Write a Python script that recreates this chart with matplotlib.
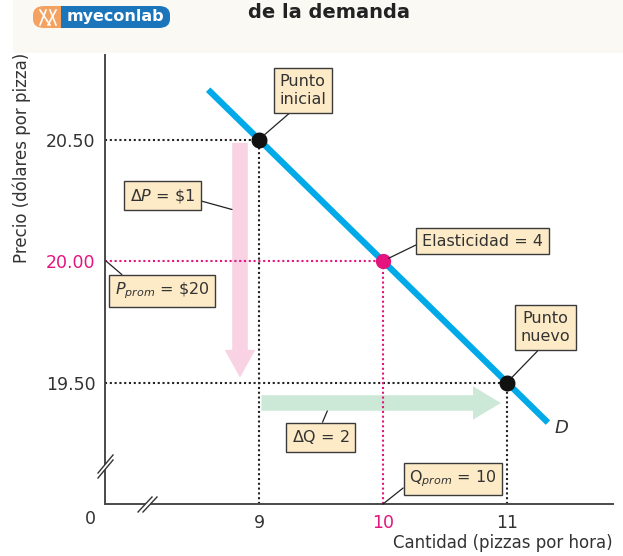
import matplotlib
matplotlib.use("Agg")
import matplotlib.pyplot as plt
from matplotlib.patches import FancyBboxPatch, Polygon, Rectangle
from matplotlib.lines import Line2D

plt.rcParams['font.family'] = ['DejaVu Sans']
plt.rcParams['mathtext.fontset'] = 'dejavusans'

# ---------------- data ----------------
quantity_ticks = [9, 10, 11]
quantity_labels = ["9", "10", "11"]
price_ticks = [19.50, 20.00, 20.50]
price_labels = ["19.50", "20.00", "20.50"]
Q_initial, P_initial = 9, 20.50
Q_new, P_new = 11, 19.50
Q_avg, P_avg = 10, 20.00
demand_q = [8.59, 11.33]
demand_p = [20.705, 19.335]

# ---------------- layout helpers ----------------
W, H = 623, 556
def fx(px):
    return px / W
def fy(py):
    return 1 - py / H
# pixel -> data (layout only)
def dx(px):
    return Q_initial + (px - 259) / 124.0
def dy(py):
    return P_initial - (py - 139.5) / 243.0

TXT = '#333333'
MAG = '#E5137E'
BOXFC = '#FDEBC7'
BOXEC = '#3a3a3a'

fig = plt.figure(figsize=(W / 100, H / 100), dpi=100)
fig.patch.set_facecolor('white')

# header band
fig.patches.append(Rectangle((fx(13), fy(53)), 1 - fx(13), fy(0) - fy(53),
                             transform=fig.transFigure, fc='#FAF9F4', ec='none', zorder=0))

ax = fig.add_axes([fx(105), fy(504), fx(613) - fx(105), fy(55) - fy(504)])
ax.set_facecolor('none')
ax.set_xlim(dx(105), dx(613))
ax.set_ylim(dy(504), dy(55))
for s in ['top', 'right']:
    ax.spines[s].set_visible(False)
for s in ['left', 'bottom']:
    ax.spines[s].set_color('#4a4a4a')
    ax.spines[s].set_linewidth(1.4)

ax.set_xticks(quantity_ticks, quantity_labels)
ax.set_yticks(price_ticks, price_labels)
ax.tick_params(axis='both', length=0, labelsize=12.5, colors=TXT)
ax.tick_params(axis='x', pad=7)
ax.tick_params(axis='y', pad=7)
for lab in ax.get_xticklabels():
    if lab.get_text() == "10":
        lab.set_color(MAG)
for lab in ax.get_yticklabels():
    if lab.get_text() == "20.00":
        lab.set_color(MAG)

x0 = ax.get_xlim()[0]
y0 = ax.get_ylim()[0]
dots = (0, (1.0, 1.3))
GL = dict(lw=1.5, ls=dots, dash_capstyle='butt', zorder=2)
# guide lines
ax.plot([x0, Q_initial], [P_initial, P_initial], color='#222222', **GL)
ax.plot([Q_initial, Q_initial], [y0, P_initial], color='#222222', **GL)
ax.plot([x0, Q_new], [P_new, P_new], color='#222222', **GL)
ax.plot([Q_new, Q_new], [y0, P_new], color='#222222', **GL)
ax.plot([x0, Q_avg], [P_avg, P_avg], color=MAG, **GL)
ax.plot([Q_avg, Q_avg], [y0, P_avg], color=MAG, **GL)

# arrows
ax.annotate('', xy=(dx(240), P_new + 0.02), xytext=(dx(240), P_initial - 0.014),
            arrowprops=dict(arrowstyle='simple,head_length=2.0,head_width=2.2,tail_width=1.12',
                            mutation_scale=10, fc='#F9D3E4', ec='none', shrinkA=0, shrinkB=0),
            zorder=1)
ax.annotate('', xy=(Q_new - 0.05, dy(403)), xytext=(Q_initial + 0.02, dy(403)),
            arrowprops=dict(arrowstyle='simple,head_length=2.0,head_width=2.4,tail_width=1.12',
                            mutation_scale=10, fc='#CCE8D6', ec='none', shrinkA=0, shrinkB=0),
            zorder=1)

# demand curve
ax.plot(demand_q, demand_p, color='#00A9E8', lw=4.5, solid_capstyle='butt', zorder=3)
ax.text(dx(561), dy(428), 'D', fontsize=13, style='italic', color=TXT, ha='center', va='center')

# points
ax.plot([Q_initial, Q_new], [P_initial, P_new], 'o', color='#111111', ms=10.5, zorder=5)
ax.plot([Q_avg], [P_avg], 'o', color=MAG, ms=10, zorder=5)

# annotation boxes
bbox = dict(boxstyle='square,pad=0.35', fc=BOXFC, ec=BOXEC, lw=1.0)
lead = dict(arrowstyle='-', color='#222222', lw=0.9, shrinkA=0)

def note(text, center, target, relpos, shrinkB=0, ls=1.25):
    props = dict(lead)
    props['relpos'] = relpos
    props['shrinkB'] = shrinkB
    ax.annotate(text, xy=target, xytext=center, ha='center', va='center',
                fontsize=11.5, color=TXT, bbox=bbox, arrowprops=props,
                linespacing=ls, zorder=6)

note('Punto\ninicial', (dx(302.7), dy(90.5)), (Q_initial, P_initial), (0.37, 0.0), shrinkB=5)
note(r'$\Delta P$ = \$1', (dx(162.5), dy(195.7)), (dx(232), dy(209.5)), (1.0, 0.3))
note(r'$P_{prom}$ = \$20', (dx(162), dy(291)), (dx(106), P_avg), (0.15, 1.0))
note('Elasticidad = 4', (dx(482.5), dy(241.3)), (Q_avg, P_avg), (0.0, 0.45), shrinkB=4.5)
note('Punto\nnuevo', (dx(545.8), dy(327.5)), (Q_new, P_new), (0.47, 0.0), shrinkB=5)
note(r'$\Delta\mathrm{Q}$ = 2', (dx(320.5), dy(437.3)), (dx(327.3), dy(411)), (0.49, 1.0))
note(r'$\mathrm{Q}_{prom}$ = 10', (dx(453), dy(479)), (Q_avg, y0), (0.0, 0.3))

# axis labels
fig.text(fx(613), fy(543), 'Cantidad (pizzas por hora)', ha='right', va='center', fontsize=12, color=TXT)
fig.text(fx(22), fy(158), 'Precio (dólares por pizza)', ha='center', va='center', rotation=90,
         fontsize=12, color=TXT)
fig.text(fx(90), fy(519), '0', ha='center', va='center', fontsize=12.5, color=TXT)

# axis breaks
def brk(p1, p2, p3, p4):
    poly = Polygon([(fx(p1[0]), fy(p1[1])), (fx(p2[0]), fy(p2[1])), (fx(p4[0]), fy(p4[1])), (fx(p3[0]), fy(p3[1]))],
                   closed=True, transform=fig.transFigure, fc='white', ec='none', zorder=10)
    fig.patches.append(poly)
    for a, b in [(p1, p2), (p3, p4)]:
        fig.lines.append(Line2D([fx(a[0]), fx(b[0])], [fy(a[1]), fy(b[1])], transform=fig.transFigure,
                                color='#333333', lw=1.0, zorder=11))
brk((98, 473), (113, 455), (98, 478), (113, 460))
brk((138, 512), (152, 497), (143, 512), (157, 497))

# header
fig.text(fx(248), fy(13), 'de la demanda', ha='left', va='center', fontsize=14, fontweight='bold', color='#222222')

# logo
fig.patches.append(FancyBboxPatch((fx(33), fy(28)), fx(168) - fx(33), fy(6) - fy(28),
                                  boxstyle='round,pad=0,rounding_size=0.018', transform=fig.transFigure,
                                  fc='#F5A15F', ec='none', zorder=2, mutation_aspect=556 / 623))
fig.patches.append(FancyBboxPatch((fx(61), fy(28)), fx(170) - fx(61), fy(6) - fy(28),
                                  boxstyle='round,pad=0,rounding_size=0.018', transform=fig.transFigure,
                                  fc='#1B75BB', ec='none', zorder=3, mutation_aspect=556 / 623))
fig.patches.append(Rectangle((fx(61), fy(28)), fx(75) - fx(61), fy(6) - fy(28), transform=fig.transFigure,
                             fc='#1B75BB', ec='none', zorder=3))
for (a, b) in [((40, 10), (50, 25)), ((46, 10), (40, 25)), ((50, 10), (56, 25)), ((56, 10), (48, 25))]:
    fig.lines.append(Line2D([fx(a[0]), fx(b[0])], [fy(a[1]), fy(b[1])], transform=fig.transFigure,
                            color='white', lw=1.2, zorder=4))
fig.text(fx(115), fy(17), 'myeconlab', ha='center', va='center', fontsize=11.5, fontweight='bold',
         color='white', zorder=5)

fig.savefig('out.png', dpi=100)
